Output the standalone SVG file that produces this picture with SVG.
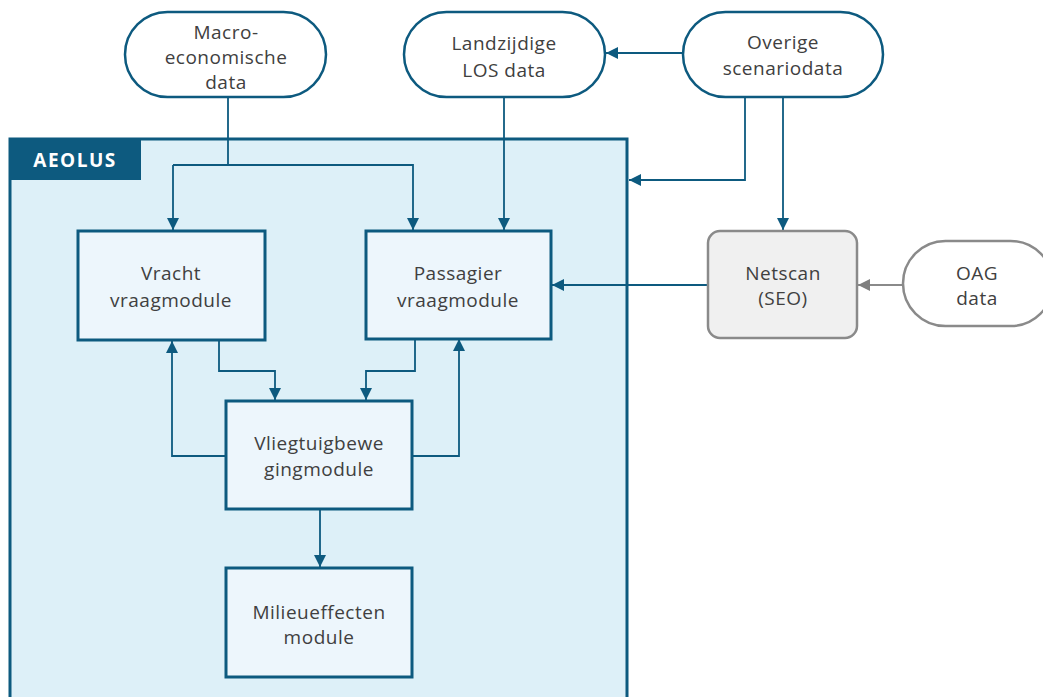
<svg xmlns="http://www.w3.org/2000/svg" width="1043" height="697" viewBox="0 0 1043 697">
<defs>
<marker id="ab" viewBox="0 0 12 12" refX="12" refY="6" markerWidth="12" markerHeight="12" markerUnits="userSpaceOnUse" orient="auto">
<path d="M0,0 L12,6 L0,12 Z" fill="#0d5a7f"/>
</marker>
<marker id="ag" viewBox="0 0 12 12" refX="12" refY="6" markerWidth="12" markerHeight="12" markerUnits="userSpaceOnUse" orient="auto">
<path d="M0,0 L12,6 L0,12 Z" fill="#7f7f7f"/>
</marker>
<style>
text{font-family:"Open Sans","Liberation Sans",sans-serif;font-size:19px;letter-spacing:0.5px;fill:#404040;text-anchor:middle}
.pill{fill:#ffffff;stroke:#0d5a7f;stroke-width:2.5}
.gpill{fill:#ffffff;stroke:#8a8a8a;stroke-width:2.5}
.box{fill:#edf6fc;stroke:#0d5a7f;stroke-width:3}
.c{fill:none;stroke:#0d5a7f;stroke-width:1.8;marker-end:url(#ab)}
.cn{fill:none;stroke:#0d5a7f;stroke-width:1.8}
.cg{fill:none;stroke:#8a8a8a;stroke-width:1.8;marker-end:url(#ag)}
</style>
</defs>
<rect width="1043" height="697" fill="#ffffff"/>
<g id="aeolus">
<rect x="10" y="139" width="617" height="580" fill="#ddf0f8" stroke="#0d5a7f" stroke-width="3"/>
<rect x="10" y="139" width="131" height="41" fill="#0d5a7f"/>
<text x="75" y="167" style="fill:#ffffff;font-weight:bold;font-size:19px;letter-spacing:1.5px">AEOLUS</text>
</g>
<g id="connectors">
<path class="cn" d="M228,97 V165 H173"/>
<path class="c" d="M173,165 V230"/>
<path class="c" d="M228,165 H413 V230"/>
<path class="c" d="M504,97 V230"/>
<path class="c" d="M683,53 H606"/>
<path class="c" d="M745,97 V180 H629"/>
<path class="c" d="M783,97 V230"/>
<path class="c" d="M708,285 H552"/>
<path class="cg" d="M903,285 H858"/>
<path class="c" d="M219,340 V371 H275 V400"/>
<path class="c" d="M415,339 V371 H366 V400"/>
<path class="c" d="M226,456 H172 V341"/>
<path class="c" d="M412,456 H459 V339"/>
<path class="c" d="M320,509 V567"/>
</g>
<g id="macro">
<rect class="pill" x="125" y="12" width="201" height="85" rx="42.5"/>
<text x="226" y="39">Macro-</text>
<text x="226" y="64">economische</text>
<text x="226" y="89">data</text>
</g>
<g id="landzijdige">
<rect class="pill" x="404" y="12" width="201" height="85" rx="42.5"/>
<text x="504" y="50">Landzijdige</text>
<text x="504" y="77">LOS data</text>
</g>
<g id="overige">
<rect class="pill" x="683" y="12" width="200" height="85" rx="42.5"/>
<text x="783" y="49">Overige</text>
<text x="783" y="75">scenariodata</text>
</g>
<g id="vracht">
<rect class="box" x="78" y="231" width="187" height="109"/>
<text x="171" y="280">Vracht</text>
<text x="171" y="307">vraagmodule</text>
</g>
<g id="passagier">
<rect class="box" x="366" y="231" width="185" height="108"/>
<text x="458" y="280">Passagier</text>
<text x="458" y="307">vraagmodule</text>
</g>
<g id="netscan">
<rect x="708" y="231" width="149" height="107" rx="12" fill="#f0f0f0" stroke="#8a8a8a" stroke-width="2.5"/>
<text x="783" y="280">Netscan</text>
<text x="783" y="305">(SEO)</text>
</g>
<g id="oag">
<rect class="gpill" x="903" y="241" width="150" height="85" rx="42.5"/>
<text x="977" y="280">OAG</text>
<text x="977" y="305">data</text>
</g>
<g id="vliegtuig">
<rect class="box" x="226" y="401" width="186" height="108"/>
<text x="319" y="450">Vliegtuigbewe</text>
<text x="319" y="476">gingmodule</text>
</g>
<g id="milieu">
<rect class="box" x="226" y="568" width="186" height="109"/>
<text x="319" y="619">Milieueffecten</text>
<text x="319" y="644">module</text>
</g>
</svg>
